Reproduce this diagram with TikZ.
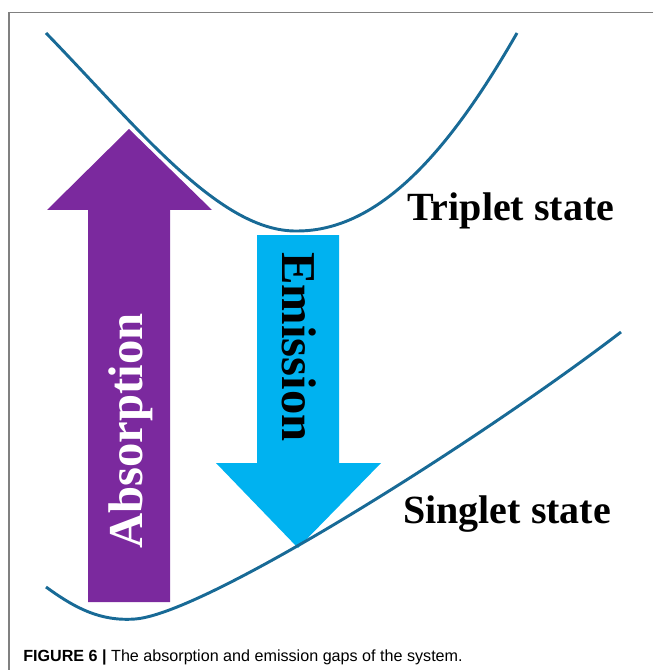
\documentclass[tikz,border=0pt]{standalone}
\usepackage{fontspec}
\setmainfont{Liberation Serif}
\newfontfamily\capfont{Liberation Sans}
\usepackage{xcolor}
\usepackage{tikz}
\usetikzlibrary{calc,positioning}
\definecolor{absPurple}{RGB}{123,41,158}
\definecolor{emiCyan}{RGB}{0,178,240}
\definecolor{curveBlue}{RGB}{24,106,150}
\definecolor{frameGray}{RGB}{128,128,128}
\tikzset{
  statecurve/.style={curveBlue, line width=2.2pt},
  statelabel/.style={anchor=base west, inner sep=0pt, font=\bfseries\fontsize{30}{30}\selectfont},
  gaplabel/.style={anchor=base, inner sep=0pt, font=\bfseries\fontsize{36.5}{36.5}\selectfont},
}

\begin{document}
\begin{tikzpicture}[x=0.75pt,y=-0.75pt]
\useasboundingbox (0,0) rectangle (653,670);
% frame
\draw[frameGray, line width=1.1pt] (653,12.5) -- (9,12.5) -- (9,670);
% arrows
\fill[absPurple] (88,602) -- (170,602) -- (170,210) -- (212,210) -- (129,129)
  -- (47,210) -- (88,210) -- cycle;
\fill[emiCyan] (257,235) -- (339,235) -- (339,463) -- (381,463) -- (298,548)
  -- (216,463) -- (257,463) -- cycle;
% potential curves
\draw[statecurve] (46,33) .. controls (140,130) and (220,232) .. (297,231)
  .. controls (380,231) and (450,150) .. (517,33);
\draw[statecurve] (46,587) .. controls (75,608) and (100,621.5) .. (135,619)
  .. controls (205,614) and (480,440) .. (621,332);
% labels
\node[gaplabel, white, rotate=90] (absorb) at (142,431) {Absorption};
\node[gaplabel, black, rotate=-90] (emit) at (282,347) {Emission};
\node[statelabel] (triplet) at (407,220) {Triplet state};
\node[statelabel] (singlet) at (403,523) {Singlet state};
\node[anchor=base west, inner sep=0pt, font=\capfont\fontsize{12.1}{12.1}\selectfont] (caption) at (23,661)
  {\textbf{FIGURE 6 |} The absorption and emission gaps of the system.};
\end{tikzpicture}
\end{document}
